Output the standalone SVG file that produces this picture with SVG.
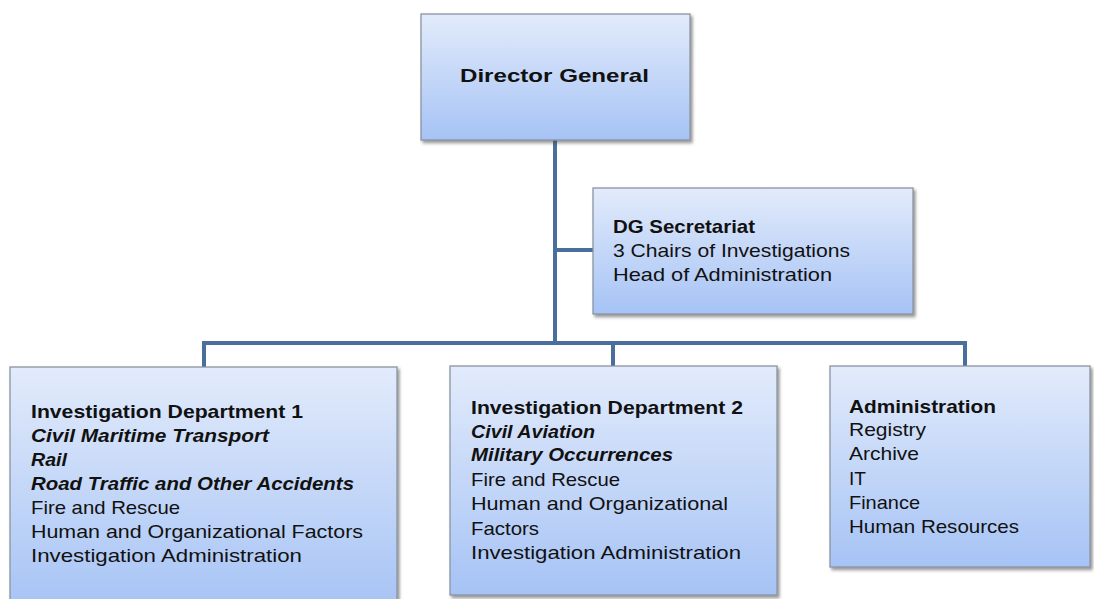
<svg xmlns="http://www.w3.org/2000/svg" width="1094" height="599" viewBox="0 0 1094 599">
  <defs>
    <linearGradient id="boxFill" x1="0" y1="0" x2="0" y2="1">
      <stop offset="0" stop-color="#e2ebfb"/>
      <stop offset="1" stop-color="#a6c3f5"/>
    </linearGradient>
    <filter id="shadow" x="-5%" y="-5%" width="112%" height="115%">
      <feDropShadow dx="2" dy="2.5" stdDeviation="1.4" flood-color="#404040" flood-opacity="0.55"/>
    </filter>
  </defs>
  <style>
    .box { fill: url(#boxFill); stroke: #8a94a2; stroke-width: 1.3; filter: url(#shadow); }
    .link { fill: none; stroke: #4a6f9c; stroke-width: 4; }
    text { font-family: "Liberation Sans", Arial, sans-serif; font-size: 18.5px; fill: #111; }
    .b { font-weight: bold; }
    .bi { font-weight: bold; font-style: italic; }
  </style>

  <rect width="1094" height="599" fill="#ffffff"/>

  <!-- connectors -->
  <g id="connectors">
    <line class="link" x1="555" y1="140" x2="555" y2="345"/>
    <line class="link" x1="555" y1="250" x2="593" y2="250"/>
    <polyline class="link" points="204,367 204,343 965,343 965,367"/>
    <line class="link" x1="613" y1="343" x2="613" y2="366"/>
  </g>

  <!-- top node -->
  <g id="director-general">
    <rect class="box" x="421" y="14" width="269" height="126"/>
    <text class="b" x="460" y="82" font-size="20" textLength="189" lengthAdjust="spacingAndGlyphs">Director General</text>
  </g>

  <g id="dg-secretariat">
    <rect class="box" x="593" y="188" width="320" height="126"/>
    <text class="b" x="613" y="233" textLength="142" lengthAdjust="spacingAndGlyphs">DG Secretariat</text>
    <text x="613" y="257" textLength="237" lengthAdjust="spacingAndGlyphs">3 Chairs of Investigations</text>
    <text x="613" y="281" textLength="219" lengthAdjust="spacingAndGlyphs">Head of Administration</text>
  </g>

  <g id="investigation-department-1">
    <rect class="box" x="10" y="367" width="387" height="245"/>
    <text class="b" x="31" y="418" textLength="272" lengthAdjust="spacingAndGlyphs">Investigation Department 1</text>
    <text class="bi" x="31" y="442" textLength="238" lengthAdjust="spacingAndGlyphs">Civil Maritime Transport</text>
    <text class="bi" x="31" y="466" textLength="36" lengthAdjust="spacingAndGlyphs">Rail</text>
    <text class="bi" x="31" y="490" textLength="323" lengthAdjust="spacingAndGlyphs">Road Traffic and Other Accidents</text>
    <text x="31" y="514" textLength="149" lengthAdjust="spacingAndGlyphs">Fire and Rescue</text>
    <text x="31" y="538" textLength="332" lengthAdjust="spacingAndGlyphs">Human and Organizational Factors</text>
    <text x="31" y="562" textLength="271" lengthAdjust="spacingAndGlyphs">Investigation Administration</text>
  </g>

  <g id="investigation-department-2">
    <rect class="box" x="450" y="366" width="327" height="229"/>
    <text class="b" x="471" y="414" textLength="272" lengthAdjust="spacingAndGlyphs">Investigation Department 2</text>
    <text class="bi" x="471" y="438" textLength="124" lengthAdjust="spacingAndGlyphs">Civil Aviation</text>
    <text class="bi" x="471" y="461" textLength="202" lengthAdjust="spacingAndGlyphs">Military Occurrences</text>
    <text x="471" y="486" textLength="149" lengthAdjust="spacingAndGlyphs">Fire and Rescue</text>
    <text x="471" y="510" textLength="257" lengthAdjust="spacingAndGlyphs">Human and Organizational</text>
    <text x="471" y="535" textLength="68" lengthAdjust="spacingAndGlyphs">Factors</text>
    <text x="471" y="559" textLength="270" lengthAdjust="spacingAndGlyphs">Investigation Administration</text>
  </g>

  <g id="administration">
    <rect class="box" x="830" y="366" width="260" height="201"/>
    <text class="b" x="849" y="413" textLength="147" lengthAdjust="spacingAndGlyphs">Administration</text>
    <text x="849" y="436" textLength="77" lengthAdjust="spacingAndGlyphs">Registry</text>
    <text x="849" y="460" textLength="70" lengthAdjust="spacingAndGlyphs">Archive</text>
    <text x="849" y="485" textLength="17" lengthAdjust="spacingAndGlyphs">IT</text>
    <text x="849" y="509" textLength="71" lengthAdjust="spacingAndGlyphs">Finance</text>
    <text x="849" y="533" textLength="170" lengthAdjust="spacingAndGlyphs">Human Resources</text>
  </g>
</svg>
